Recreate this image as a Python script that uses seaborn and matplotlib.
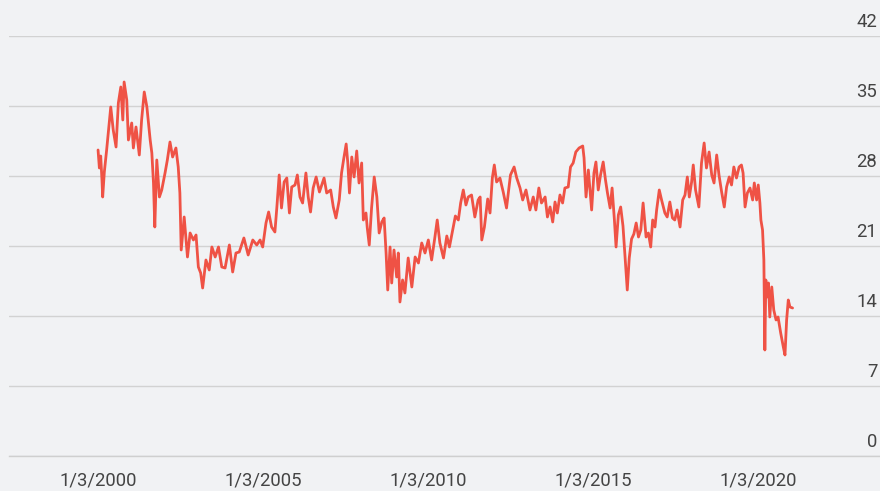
import numpy as np
import pandas as pd
import matplotlib
matplotlib.use("Agg")
import matplotlib.pyplot as plt
import matplotlib.transforms as mtransforms
import seaborn as sns

# years elapsed since 1/3/2000
years = [
    0.00, 0.04, 0.08, 0.12, 0.14, 0.19, 0.26, 0.385, 0.46, 0.545, 0.615, 0.69, 0.75, 0.79, 0.87, 0.92,
    1.02, 1.07, 1.15, 1.25, 1.32, 1.40, 1.48, 1.58, 1.63, 1.68, 1.72, 1.78, 1.86, 1.93,
    2.03, 2.10, 2.18, 2.26, 2.36, 2.43, 2.48, 2.52, 2.61, 2.71, 2.79, 2.89, 2.97,
    3.04, 3.11, 3.17, 3.27, 3.37, 3.45, 3.55, 3.65, 3.75, 3.85, 3.98,
    4.08, 4.18, 4.28, 4.42, 4.55, 4.69, 4.81, 4.91, 4.99,
    5.09, 5.17, 5.26, 5.36, 5.42, 5.49, 5.56, 5.64, 5.72, 5.80, 5.87, 5.97,
    6.04, 6.12, 6.20, 6.30, 6.37, 6.44, 6.52, 6.61, 6.71, 6.85, 6.93,
    7.05, 7.13, 7.21, 7.31, 7.38, 7.45, 7.52, 7.57, 7.62, 7.69, 7.76, 7.84, 7.91, 7.99,
    8.04, 8.12, 8.16, 8.22, 8.29, 8.37, 8.45, 8.52, 8.60, 8.67, 8.73, 8.78, 8.85, 8.90, 8.97,
    9.05, 9.10, 9.15, 9.23, 9.30, 9.40, 9.51, 9.61, 9.71, 9.81, 9.91,
    10.01, 10.11, 10.21, 10.28, 10.36, 10.47, 10.57, 10.65, 10.75, 10.83, 10.92, 10.99,
    11.07, 11.15, 11.22, 11.32, 11.42, 11.52, 11.58, 11.63, 11.71, 11.81, 11.88, 11.95,
    12.01, 12.08, 12.18, 12.28, 12.38, 12.50, 12.61, 12.69, 12.79, 12.87, 12.97,
    13.09, 13.19, 13.27, 13.36, 13.44, 13.55, 13.62, 13.70, 13.78, 13.85, 13.92,
    14.00, 14.08, 14.15, 14.25, 14.32, 14.40, 14.48, 14.58, 14.69, 14.73, 14.79, 14.86, 14.96,
    15.03, 15.09, 15.16, 15.23, 15.31, 15.38, 15.44, 15.52, 15.58, 15.65, 15.70, 15.77, 15.84, 15.91, 15.98,
    16.04, 16.10, 16.17, 16.24, 16.31, 16.38, 16.45, 16.52, 16.61, 16.68, 16.75, 16.81, 16.88, 16.93,
    17.01, 17.08, 17.18, 17.25, 17.33, 17.41, 17.48, 17.55, 17.64, 17.72, 17.79, 17.86, 17.92, 17.99,
    18.04, 18.11, 18.21, 18.29, 18.37, 18.44, 18.52, 18.60, 18.67, 18.75, 18.82, 18.90, 18.98,
    19.05, 19.13, 19.20, 19.27, 19.35, 19.43, 19.50, 19.55, 19.61, 19.68, 19.76, 19.84, 19.89, 19.96,
    20.01, 20.06, 20.09, 20.14, 20.18, 20.21, 20.24, 20.28, 20.32, 20.36, 20.42, 20.48, 20.55, 20.61,
    20.69, 20.77, 20.82, 20.87, 20.92, 20.97, 21.05,
]
price = [
    30.6, 28.8, 30.0, 27.5, 25.9, 28.4, 30.6, 34.9, 32.6, 30.9, 35.3, 36.9, 33.6, 37.4, 35.6, 31.6,
    33.3, 30.8, 32.9, 30.1, 33.6, 36.4, 34.9, 31.6, 30.3, 27.3, 22.9, 29.6, 25.9, 26.6,
    28.3, 29.6, 31.4, 29.9, 30.8, 28.9, 26.3, 20.6, 23.9, 19.9, 22.3, 21.6, 22.1,
    18.9, 18.3, 16.8, 19.6, 18.6, 20.9, 19.9, 20.9, 18.9, 18.8, 21.1,
    18.4, 20.3, 20.4, 21.8, 20.1, 21.6, 21.1, 21.6, 20.9,
    23.3, 24.4, 22.9, 22.4, 24.9, 28.1, 24.8, 27.4, 27.8, 24.3, 26.9, 27.1,
    28.1, 25.9, 25.3, 28.3, 25.9, 24.4, 26.8, 27.9, 26.4, 27.8, 26.3,
    26.6, 24.9, 23.8, 25.6, 28.3, 29.8, 31.2, 29.3, 26.3, 29.9, 27.9, 30.5, 27.3, 29.3,
    23.6, 24.3, 22.8, 21.1, 24.8, 27.9, 25.9, 22.3, 23.4, 23.8, 20.3, 16.6, 20.9, 17.3, 20.6,
    17.9, 20.3, 15.4, 17.6, 16.3, 19.8, 16.9, 19.9, 19.3, 21.3, 20.3,
    21.6, 19.6, 21.9, 23.6, 21.3, 19.8, 22.0, 20.9, 22.6, 24.0, 23.6, 25.3,
    26.6, 25.1, 25.9, 26.1, 23.9, 25.6, 25.9, 21.6, 22.9, 25.7, 24.3, 27.8,
    29.1, 27.4, 27.8, 26.4, 24.8, 28.1, 28.9, 27.8, 26.8, 25.6, 26.6,
    24.6, 25.9, 24.6, 26.8, 25.3, 25.9, 23.9, 24.9, 23.4, 25.4, 24.3,
    26.1, 25.3, 26.8, 26.9, 28.9, 29.3, 30.4, 30.8, 31.0, 29.8, 25.9, 28.6, 24.6,
    28.3, 29.4, 26.6, 28.1, 29.4, 27.6, 26.3, 24.8, 26.8, 23.6, 20.9, 24.1, 24.9, 23.0, 19.6,
    16.6, 19.8, 21.7, 22.2, 23.3, 21.9, 22.6, 25.3, 21.9, 22.3, 20.9, 23.6, 22.9, 24.6,
    26.6, 25.6, 24.3, 23.9, 25.4, 23.8, 23.6, 24.6, 22.9, 25.6, 26.1, 27.9, 25.9, 27.4,
    29.1, 26.6, 24.9, 29.3, 31.3, 28.8, 30.4, 28.1, 27.3, 30.1, 28.1, 26.4, 24.9,
    26.9, 27.9, 27.1, 28.9, 27.8, 28.9, 29.1, 28.3, 24.9, 26.3, 26.8, 25.6, 27.3, 25.6,
    27.1, 25.3, 23.6, 22.6, 19.6, 10.6, 17.6, 15.9, 17.3, 13.9, 16.9, 14.6, 13.6, 13.9,
    12.3, 10.9, 10.1, 13.6, 15.6, 14.9, 14.8,
]

start_year = 2000
label_years = [2000, 2005, 2010, 2015, 2020]
y_ticks = [0, 7, 14, 21, 28, 35, 42]

df = pd.DataFrame({"t": np.array(years) + start_year, "price": price})

bg = "#f1f2f4"
sns.set_theme(style="white")
plt.rcParams["font.family"] = ["Roboto", "DejaVu Sans"]

fig = plt.figure(figsize=(8.8, 4.91), dpi=100, facecolor=bg)
ax = fig.add_axes([0.0102, 0.0713, 0.9898, 0.8554])
ax.set_facecolor(bg)

sns.lineplot(data=df, x="t", y="price", color="#ef5245", linewidth=2.0, ax=ax)

ax.set_xlim(1997.3, 2023.7)
ax.set_ylim(0, 42)
ax.set_xlabel("")
ax.set_ylabel("")

# x axis: labelled ticks every 5 years, small ticks every year
ax.set_xticks(label_years)
ax.set_xticklabels([f"1/3/{y}" for y in label_years])
ax.set_xticks(list(range(2000, 2021)), minor=True)
ax.tick_params(axis="x", which="major", length=8.6, width=1, color="#cfcfcf",
               labelsize=13.3, labelcolor="#444444", pad=2.5)
ax.tick_params(axis="x", which="minor", length=5, width=1, color="#cfcfcf")

# y axis: labels inside on the right, sitting above the gridlines
ax.yaxis.tick_right()
ax.set_yticks(y_ticks)
ax.tick_params(axis="y", length=0, pad=-2, labelsize=13.3, labelcolor="#444444")
offset = mtransforms.ScaledTranslation(0, 5 / 100, fig.dpi_scale_trans)
for lab in ax.get_yticklabels():
    lab.set_horizontalalignment("right")
    lab.set_verticalalignment("bottom")
    lab.set_transform(lab.get_transform() + offset)

ax.grid(axis="y", color="#d2d2d2", linewidth=1)
ax.grid(axis="x", visible=False)
for side in ["top", "left", "right"]:
    ax.spines[side].set_visible(False)
ax.spines["bottom"].set_color("#cfcfcf")
ax.spines["bottom"].set_linewidth(1)

fig.savefig("out.png", dpi=100, facecolor=bg)
